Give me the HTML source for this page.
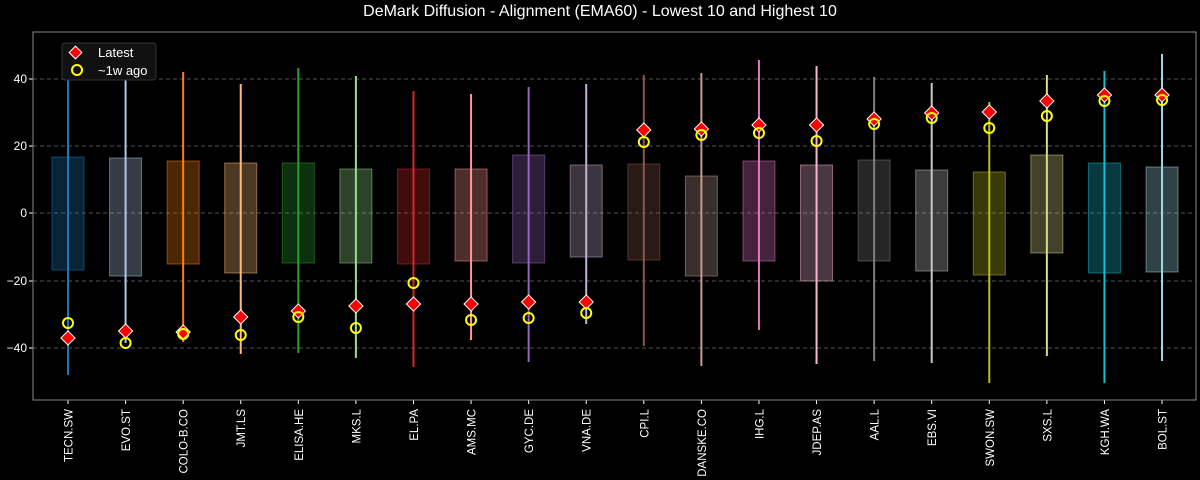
<!DOCTYPE html>
<html><head><meta charset="utf-8"><style>
body{margin:0;background:#000;}
svg{display:block;font-family:"Liberation Sans","DejaVu Sans",sans-serif;}
</style></head><body>
<svg id="s" width="1200" height="480" viewBox="0 0 1200 480" xmlns="http://www.w3.org/2000/svg">
<rect width="1200" height="480" fill="#000"/>
<text x="600" y="16" fill="#fff" font-size="16" text-anchor="middle">DeMark Diffusion - Alignment (EMA60) - Lowest 10 and Highest 10</text>
<g stroke="#555" stroke-dasharray="4,3" stroke-width="1">
<line x1="33" x2="1196" y1="79" y2="79"/><line x1="33" x2="1196" y1="146" y2="146"/>
<line x1="33" x2="1196" y1="213" y2="213"/><line x1="33" x2="1196" y1="281" y2="281"/>
<line x1="33" x2="1196" y1="348" y2="348"/>
</g>
<g fill="#fff" font-size="12" text-anchor="end">
<text x="27" y="83">40</text><text x="27" y="150">20</text><text x="27" y="217">0</text>
<text x="27" y="285">−20</text><text x="27" y="352">−40</text>
</g>
<g stroke="#fff"><line x1="29" x2="33" y1="79" y2="79"/><line x1="29" x2="33" y1="146" y2="146"/><line x1="29" x2="33" y1="213" y2="213"/><line x1="29" x2="33" y1="281" y2="281"/><line x1="29" x2="33" y1="348" y2="348"/></g>
<g id="g"></g>
<rect x="33" y="32" width="1163" height="368" fill="none" stroke="#888" stroke-width="1"/>
<rect x="62" y="43" width="94" height="37" rx="3" fill="#111" stroke="#333"/>
<rect x="71" y="48" width="9" height="9" fill="red" stroke="#fff" stroke-width="1" transform="rotate(45 75.5 52.5)"/>
<circle cx="77" cy="70" r="5" fill="none" stroke="#ff0" stroke-width="2"/>
<text x="98" y="57" fill="#fff" font-size="13">Latest</text>
<text x="98" y="75" fill="#fff" font-size="13">~1w ago</text>
</svg>
<script>
var names=["TECN.SW","EVO.ST","COLO-B.CO","JMT.LS","ELISA.HE","MKS.L","EL.PA","AMS.MC","GYC.DE","VNA.DE","CPI.L","DANSKE.CO","IHG.L","JDEP.AS","AAL.L","EBS.VI","SWON.SW","SXS.L","KGH.WA","BOL.ST"];
var cols=["#1f77b4","#aec7e8","#ff7f0e","#ffbb78","#2ca02c","#98df8a","#d62728","#ff9896","#9467bd","#c5b0d5","#8c564b","#c49c94","#e377c2","#f7b6d2","#7f7f7f","#c7c7c7","#bcbd22","#dbdb8d","#17becf","#9edae5"];
var d=[[75,375,157,270,338,323],[50,343,158,276,331,343],[72,342,161,264,332,334],[84,354,163,273,317,335],[68,353,163,263,311,317],[76,358,169,263,306,328],[91,367,169,264,304,283],[94,340,169,261,304,320],[87,362,155,263,302,318],[84,324,165,257,302,313],[75,346,164,260,130,142],[73,366,176,276,129,135],[60,330,161,261,125,133],[66,364,165,281,125,141],[77,361,160,261,119,124],[83,363,170,271,113,118],[102,383,172,275,112,128],[75,356,155,253,101,116],[71,383,163,273,95,101],[54,361,167,272,95,100]];
var h="";
for(var i=0;i<20;i++){var x=68+i*57.58,c=cols[i],r=d[i];
h+='<rect x="'+(x-16)+'" y="'+r[2]+'" width="32" height="'+(r[3]-r[2])+'" fill="'+c+'" fill-opacity="0.3" stroke="'+c+'" stroke-opacity="0.5"/>';
h+='<line x1="'+x+'" x2="'+x+'" y1="'+r[0]+'" y2="'+r[1]+'" stroke="'+c+'" stroke-width="2"/>';
h+='<rect x="'+(x-5)+'" y="'+(r[4]-5)+'" width="10" height="10" fill="red" stroke="#fff" stroke-width="1" transform="rotate(45 '+x+' '+r[4]+')"/>';
h+='<circle cx="'+x+'" cy="'+r[5]+'" r="5" fill="none" stroke="#ff0" stroke-width="2"/>';
h+='<line x1="'+x+'" x2="'+x+'" y1="400" y2="404" stroke="#fff"/>';
h+='<text transform="translate('+(x+4.5)+',409) rotate(-90)" text-anchor="end" fill="#fff" font-size="11.5">'+names[i]+'</text>';}
document.getElementById("g").innerHTML=h;
</script>
</body></html>
